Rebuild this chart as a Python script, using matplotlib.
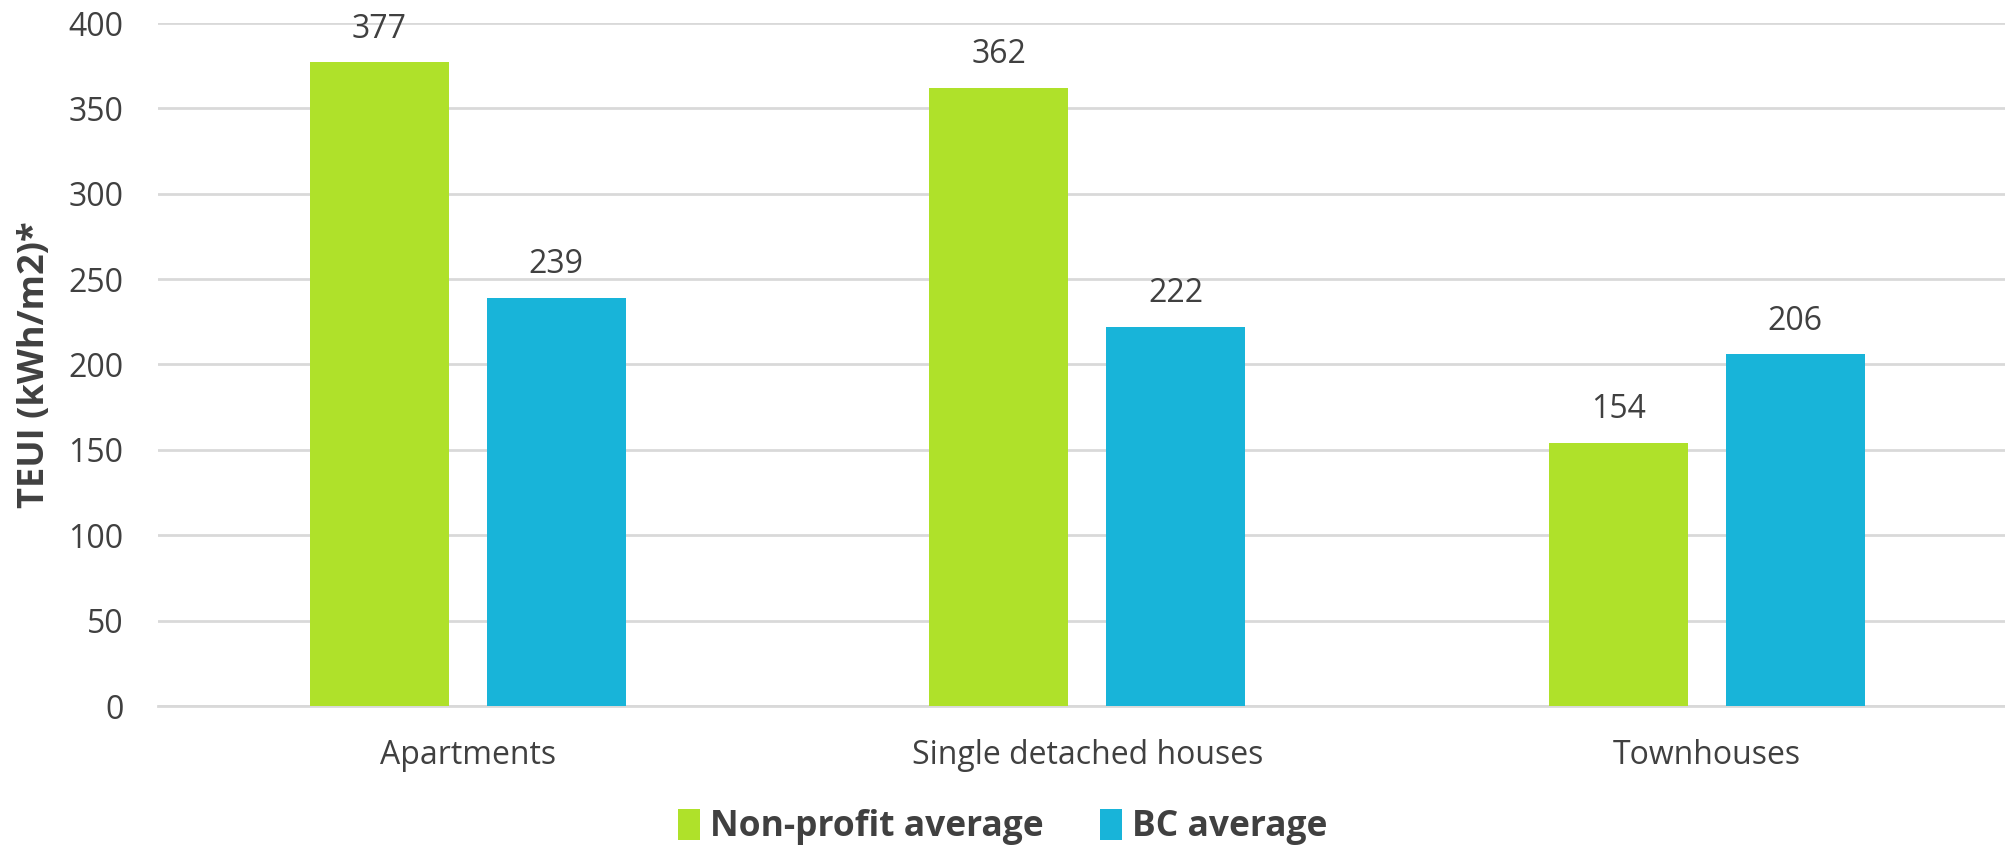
import matplotlib.pyplot as plt
import numpy as np
from matplotlib.patches import Patch

plt.rcParams['font.family'] = ['Open Sans', 'DejaVu Sans']

categories = ['Apartments', 'Single detached houses', 'Townhouses']
nonprofit = [377, 362, 154]
bc_avg = [239, 222, 206]
series_names = ['Non-profit average', 'BC average']

GREEN = '#AFE12A'
BLUE = '#18B4D9'
TEXT = '#404040'

W, H = 2006, 847
fig = plt.figure(figsize=(W / 100, H / 100), dpi=100)
ax = fig.add_axes([158 / W, 1 - 706 / H, (W - 158) / W, (706 - 23) / H])

x = np.arange(len(categories))
width = 0.224
off = 0.143
b1 = ax.bar(x - off, nonprofit, width, color=GREEN, zorder=3)
b2 = ax.bar(x + off, bc_avg, width, color=BLUE, zorder=3)

for bars, vals in ((b1, nonprofit), (b2, bc_avg)):
    for r, v in zip(bars, vals):
        ax.annotate(str(v), (r.get_x() + r.get_width() / 2, v),
                    xytext=(0, 12), textcoords='offset points',
                    ha='center', va='bottom', fontsize=23, color=TEXT)

ax.set_xlim(-0.5, 2.483)
ax.set_ylim(0, 400)
ax.set_yticks(range(0, 401, 50))
ax.set_xticks(x)
ax.set_xticklabels(categories)
ax.yaxis.grid(True, color='#D9D9D9', linewidth=2, zorder=0)
ax.set_axisbelow(True)
for s in ['top', 'right', 'left']:
    ax.spines[s].set_visible(False)
ax.spines['bottom'].set_color('#D9D9D9')
ax.spines['bottom'].set_linewidth(2)
ax.tick_params(axis='both', length=0, labelsize=23, labelcolor=TEXT)
ax.tick_params(axis='x', pad=24)
ax.tick_params(axis='y', pad=25)

ax.set_ylabel('TEUI (kWh/m2)*', fontsize=26, fontweight='bold', color=TEXT)
ax.yaxis.set_label_coords(-(158 - 53) / (W - 158), 0.5)

handles = [Patch(facecolor=GREEN), Patch(facecolor=BLUE)]
fig.legend(handles, series_names, loc='center', bbox_to_anchor=(0.5, 1 - 827 / H),
           ncol=2, frameon=False, prop={'size': 25.5, 'weight': 'bold'},
           labelcolor=TEXT, handlelength=0.6, handleheight=1.0,
           handletextpad=0.3, columnspacing=1.6)

plt.savefig('out.png', dpi=100)
